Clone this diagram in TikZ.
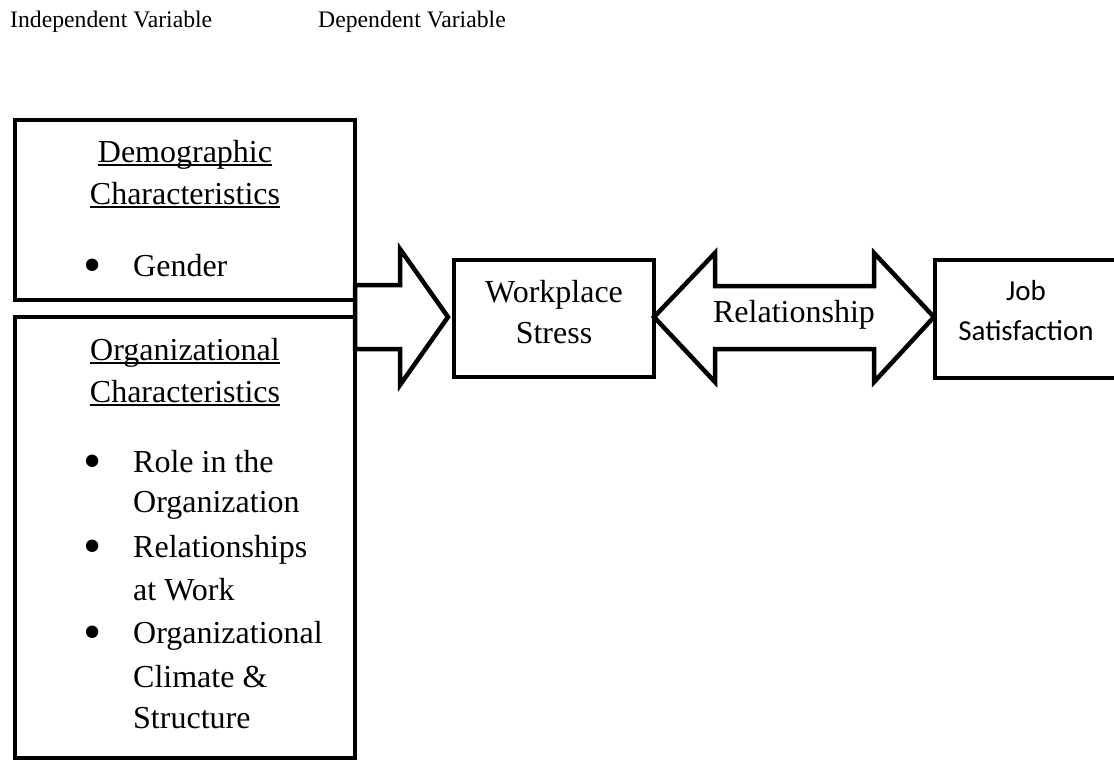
\documentclass[tikz,border=0pt]{standalone}
\usepackage{fontspec}
\setmainfont{Liberation Serif}
\newfontfamily\sansbody{Carlito}
\begin{document}
\begin{tikzpicture}[x=1pt,y=-1pt,
  frame/.style={draw=black,line width=4.5pt,line join=miter},
  blockarrow/.style={draw=black,fill=white,line width=4.5pt,line join=miter},
  heading/.style={font=\fontsize{23.7}{28}\selectfont,inner sep=0pt,anchor=base west},
  body/.style={font=\fontsize{32}{38}\selectfont,inner sep=0pt,anchor=base},
  item/.style={font=\fontsize{32}{38}\selectfont,inner sep=0pt,anchor=base west},
  dot/.style={font=\fontsize{52}{60}\selectfont,inner sep=0pt,anchor=base},
  sansbox/.style={font=\sansbody\fontsize{29}{35}\selectfont,inner sep=0pt,anchor=base},
  uline/.style={line width=1.6pt}]
\useasboundingbox (0,0) rectangle (1114,763);

% column headings
\node[heading] (indep) at (10,27) {Independent Variable};
\node[heading] (dep) at (318,27) {Dependent Variable};

% input boxes
\draw[frame] (15,120) rectangle (355,300);
\draw[frame] (15,317) rectangle (355,758);

% arrow into workplace stress
\draw[blockarrow] (355,285) -- (400,285) -- (400,249) -- (448,317)
  -- (400,385) -- (400,349) -- (355,349) -- cycle;

% workplace stress box
\draw[frame] (454,260) rectangle (654,377);

% two-way relationship arrow
\draw[blockarrow] (654,317) -- (715,253) -- (715,286) -- (874,286)
  -- (874,253) -- (934,317) -- (874,382) -- (874,349) -- (715,349)
  -- (715,382) -- cycle;

% job satisfaction box, running off the right edge
\draw[frame] (1120,260) -- (935,260) -- (935,378) -- (1120,378);

% demographic characteristics
\node[body] (dem1) at (185,162) {Demographic};
\node[body] (dem2) at (185,204) {Characteristics};
\draw[uline] ([yshift=-3pt]dem1.base west) -- ([yshift=-3pt]dem1.base east);
\draw[uline] ([yshift=-3pt]dem2.base west) -- ([yshift=-3pt]dem2.base east);
\node[dot] (b1) at (92.5,282.5) {\textbullet};
\node[item] (gender) at (133,276) {Gender};

% organizational characteristics
\node[body] (org1) at (185,360) {Organizational};
\node[body] (org2) at (185,402) {Characteristics};
\draw[uline] ([yshift=-3pt]org1.base west) -- ([yshift=-3pt]org1.base east);
\draw[uline] ([yshift=-3pt]org2.base west) -- ([yshift=-3pt]org2.base east);
\node[dot] (b2) at (92.5,478.5) {\textbullet};
\node[item] (role1) at (133,472) {Role in the};
\node[item] (role2) at (133,512) {Organization};
\node[dot] (b3) at (92.5,563.5) {\textbullet};
\node[item] (rel1) at (133,557) {Relationships};
\node[item] (rel2) at (133,600) {at Work};
\node[dot] (b4) at (92.5,649.5) {\textbullet};
\node[item] (cli1) at (133,643) {Organizational};
\node[item] (cli2) at (133,687) {Climate \&};
\node[item] (cli3) at (133,728) {Structure};

% middle and right labels
\node[body] (ws1) at (554,302) {Workplace};
\node[body] (ws2) at (554,343) {Stress};
\node[body] (relation) at (794,322) {Relationship};
\node[sansbox] (js1) at (1026,300) {Job};
\node[sansbox] (js2) at (1026,340) {Satisfaction};
\end{tikzpicture}
\end{document}
